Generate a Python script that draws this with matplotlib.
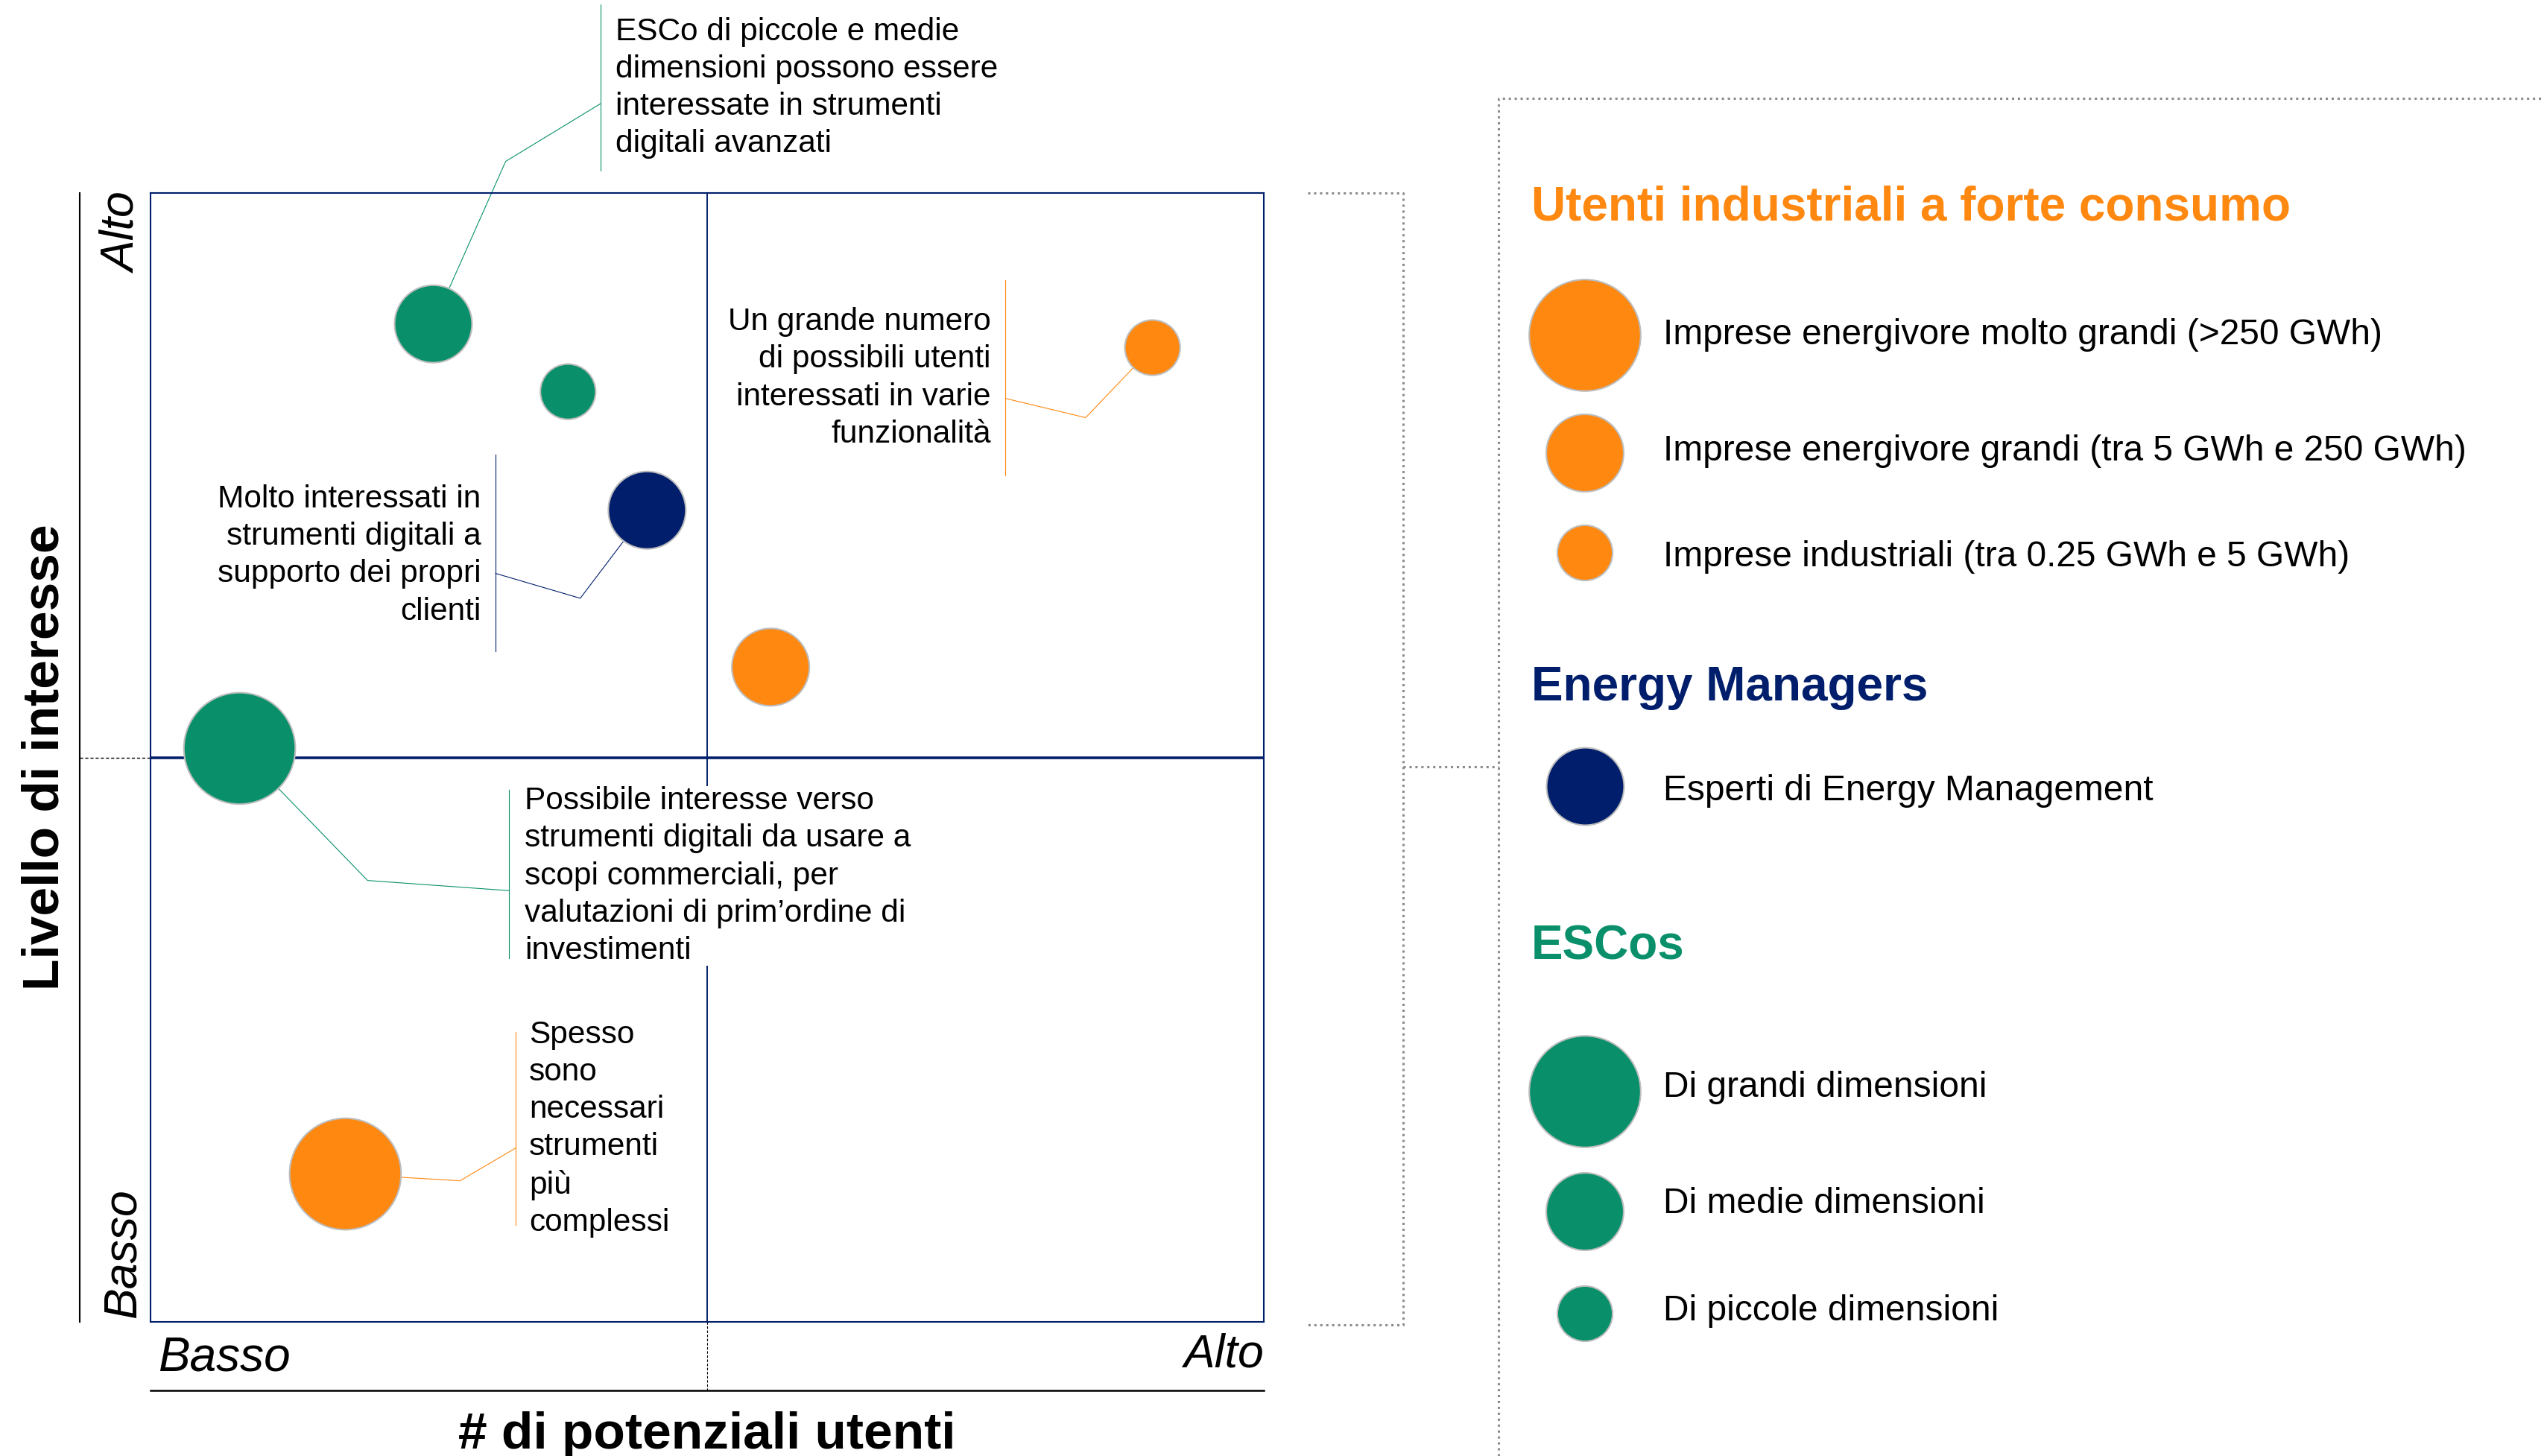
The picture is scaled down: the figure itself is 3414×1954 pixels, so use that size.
import matplotlib
matplotlib.use("Agg")
import matplotlib.pyplot as plt

plt.rcParams["font.family"] = ["Liberation Sans", "DejaVu Sans"]

# Figure size in pixels (dpi 100)
W, H = 3414, 1954

GREEN = "#09906B"
ORANGE = "#FF8811"
NAVY = "#001E6B"
EDGE = "#BDBDBD"
DOT = "#8C8C8C"

# Bubbles: x = # di potenziali utenti, y = livello di interesse (scale 0-10)
BUBBLE_NAMES = [
    "ESCo medie", "ESCo piccole", "Energy Managers",
    "Imprese energivore grandi", "Imprese industriali",
    "ESCo grandi", "Imprese energivore molto grandi",
]
BUBBLE_X = [2.54, 3.75, 4.46, 5.57, 9.00, 0.80, 1.75]
BUBBLE_Y = [8.84, 8.24, 7.19, 5.80, 8.63, 5.08, 1.31]
BUBBLE_GROUP = ["esco", "esco", "em", "ind", "ind", "esco", "ind"]
BUBBLE_CLASS = ["M", "S", "M", "M", "S", "L", "L"]

GROUP_COLORS = {"ind": ORANGE, "em": NAVY, "esco": GREEN}
# marker area (pt^2) for each size class
CLASS_AREA = {"L": 11600, "M": 5600, "S": 2850}

# Legend content
LEGEND_TITLES = ["Utenti industriali a forte consumo", "Energy Managers", "ESCos"]
LEGEND_GROUPS = ["ind", "em", "esco"]
LEGEND_LABELS = [
    ["Imprese energivore molto grandi (>250 GWh)",
     "Imprese energivore grandi (tra 5 GWh e 250 GWh)",
     "Imprese industriali (tra 0.25 GWh e 5 GWh)"],
    ["Esperti di Energy Management"],
    ["Di grandi dimensioni", "Di medie dimensioni", "Di piccole dimensioni"],
]
LEGEND_CLASSES = [["L", "M", "S"], ["M"], ["L", "M", "S"]]

# Callout texts
NOTES = [
    "ESCo di piccole e medie\ndimensioni possono essere\ninteressate in strumenti\ndigitali avanzati",
    "Un grande numero\ndi possibili utenti\ninteressati in varie\nfunzionalità",
    "Molto interessati in\nstrumenti digitali a\nsupporto dei propri\nclienti",
    "Possibile interesse verso\nstrumenti digitali da usare a\nscopi commerciali, per\nvalutazioni di prim’ordine di\ninvestimenti",
    "Spesso\nsono\nnecessari\nstrumenti\npiù\ncomplessi",
]
NOTE_TARGET = [0, 4, 2, 5, 6]  # index of bubble each note points to

# ---- layout (axes data coordinates) ----
# (text x, text y, ha, bar x, bar y0, bar y1, bar joint y, elbow x, elbow y)
NOTE_LAYOUT = [
    (4.18, 10.93, "left", 4.04, 11.67, 10.20, 10.79, 3.19, 10.28),
    (7.55, 8.36, "right", 7.68, 9.23, 7.50, 8.18, 8.40, 8.01),
    (2.97, 6.79, "right", 3.10, 7.68, 5.94, 6.63, 3.86, 6.41),
    (3.36, 3.95, "left", 3.22, 4.71, 3.22, 3.82, 1.95, 3.91),
    (3.40, 1.71, "left", 3.28, 2.57, 0.86, 1.54, 2.78, 1.25),
]


def main():
    fig = plt.figure(figsize=(W / 100, H / 100), dpi=100)

    # overlay in pixel coordinates for the legend panel and bracket
    lg = fig.add_axes([0, 0, 1, 1])
    lg.set_xlim(0, W)
    lg.set_ylim(H, 0)
    lg.axis("off")
    lg.patch.set_alpha(0)

    ax = fig.add_axes([202 / W, (H - 1774) / H, 1494 / W, 1515 / H])
    ax.patch.set_alpha(0)
    ax.set_xlim(0, 10)
    ax.set_ylim(0, 10)
    ax.set_xticks([])
    ax.set_yticks([])
    for sp in ax.spines.values():
        sp.set_color(NAVY)
        sp.set_linewidth(1.5)

    # quadrant lines
    ax.axvline(5, color=NAVY, lw=1.4, zorder=1)
    ax.axhline(5, color=NAVY, lw=2.6, zorder=1)

    # outer axis lines and dashed extensions
    ax.plot([-0.636, -0.636], [0, 10], color="black", lw=1.5, clip_on=False)
    ax.plot([0, 10], [-0.607, -0.607], color="black", lw=1.8, clip_on=False)
    ax.plot([-0.636, 0], [5, 5], color="black", lw=1.0, ls=(0, (3, 2)), clip_on=False)
    ax.plot([5, 5], [0, -0.607], color="black", lw=0.8, ls=(0, (3, 2)), clip_on=False)

    # axis texts
    ax.text(-0.25, 10, "Alto", rotation=90, ha="center", va="top",
            style="italic", fontsize=45, clip_on=False)
    ax.text(-0.25, 0.03, "Basso", rotation=90, ha="center", va="bottom",
            style="italic", fontsize=45, clip_on=False)
    ax.text(0.07, -0.32, "Basso", ha="left", va="center",
            style="italic", fontsize=46, clip_on=False)
    ax.text(10, -0.29, "Alto", ha="right", va="center",
            style="italic", fontsize=45, clip_on=False)
    ax.text(-0.944, 5, "Livello di interesse", rotation=90, ha="center",
            va="center", fontweight="bold", fontsize=50, clip_on=False)
    ax.text(5, -1.12, "# di potenziali utenti", ha="center", va="baseline",
            fontweight="bold", fontsize=50, clip_on=False)

    # bubbles
    ax.scatter(
        BUBBLE_X, BUBBLE_Y,
        s=[CLASS_AREA[c] for c in BUBBLE_CLASS],
        c=[GROUP_COLORS[g] for g in BUBBLE_GROUP],
        edgecolors=EDGE, linewidths=1.5, zorder=4, clip_on=False,
    )

    # callouts
    for note, target, lay in zip(NOTES, NOTE_TARGET, NOTE_LAYOUT):
        tx, ty, ha, bx, by0, by1, jy, ex, ey = lay
        col = GROUP_COLORS[BUBBLE_GROUP[target]]
        ax.plot([bx, bx], [by0, by1], color=col, lw=0.8, zorder=2, clip_on=False)
        ax.plot([bx, ex, BUBBLE_X[target]], [jy, ey, BUBBLE_Y[target]],
                color=col, lw=0.8, zorder=2, clip_on=False)
        ax.text(tx, ty, note, ha=ha, va="center", multialignment=ha,
                fontsize=30.5, linespacing=1.33, zorder=3, clip_on=False,
                bbox=dict(facecolor="white", edgecolor="none", pad=0))

    # bracket between chart and legend
    dot = dict(color=DOT, lw=2.2, ls=(0, (1, 1.6)), solid_capstyle="butt")
    lg.plot([1755, 1883, 1883, 1755], [259, 259, 1778, 1778], **dot)
    lg.plot([1883, 2011], [1029, 1029], **dot)
    lg.plot([2011, 2011, W], [H, 132, 132], **dot)

    # legend panel
    title_y = [279, 923, 1271]
    item_y = [[450, 608, 742], [1055], [1465, 1626, 1763]]
    text_y = [[450, 605, 748], [1061], [1460, 1615, 1760]]
    for title, grp, labels, classes, t_y, ys, tys in zip(
            LEGEND_TITLES, LEGEND_GROUPS, LEGEND_LABELS, LEGEND_CLASSES,
            title_y, item_y, text_y):
        col = GROUP_COLORS[grp]
        lg.text(2055, t_y, title, color=col, fontweight="bold", fontsize=46,
                ha="left", va="center")
        lg.scatter([2127] * len(ys), ys, s=[CLASS_AREA[c] for c in classes],
                   c=col, edgecolors=EDGE, linewidths=1.5, zorder=3)
        for lab, y in zip(labels, tys):
            lg.text(2232, y, lab, fontsize=34.5, ha="left", va="center")

    fig.savefig("out.png", dpi=100)


if __name__ == "__main__":
    main()
